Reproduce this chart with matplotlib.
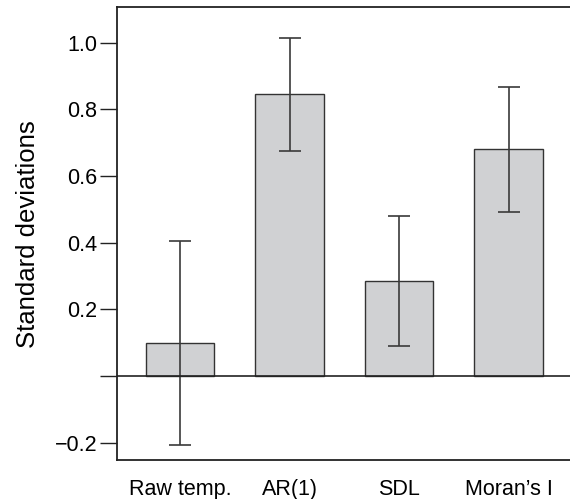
import matplotlib
matplotlib.use("Agg")
import matplotlib.pyplot as plt
import numpy as np

labels = ["Raw temp.", "AR(1)", "SDL", "Moran\u2019s I"]
means = [0.098, 0.845, 0.286, 0.680]
err_hi = [0.404, 1.015, 0.481, 0.867]
err_lo = [-0.206, 0.675, 0.091, 0.493]

plt.rcParams['font.family'] = ['Liberation Sans', 'DejaVu Sans']

fig = plt.figure(figsize=(5.70, 4.99), dpi=100)
ax = fig.add_axes([0.2058, 0.0782, 0.7942, 0.9072])

x = np.arange(len(labels))
yerr = [np.array(means) - np.array(err_lo), np.array(err_hi) - np.array(means)]
ax.bar(x, means, width=0.626, color="#d0d1d3", edgecolor="#333333",
       linewidth=1.0, zorder=2)
ax.errorbar(x, means, yerr=yerr, fmt="none", ecolor="#3a3a3a",
            elinewidth=1.2, capsize=8, capthick=1.2, zorder=3)
ax.axhline(0, color="#222222", linewidth=1.2, zorder=4)

ax.set_xlim(-0.574, 3.56)
ax.set_ylim(-0.252, 1.106)
ax.set_yticks([-0.2, 0, 0.2, 0.4, 0.6, 0.8, 1.0])
ax.set_yticklabels(["\u22120.2", "", "0.2", "0.4", "0.6", "0.8", "1.0"])
ax.set_xticks(x)
ax.set_xticklabels(labels)
ax.tick_params(axis="y", length=12, width=1.0, pad=2.5, labelsize=15.5,
               color="#222222")
ax.tick_params(axis="x", length=0, pad=14, labelsize=15.5)
ax.set_ylabel("Standard deviations", fontsize=18.5, labelpad=10.5)

ax.spines["right"].set_visible(False)
for s in ["left", "top", "bottom"]:
    ax.spines[s].set_linewidth(1.3)
    ax.spines[s].set_color("#222222")

fig.savefig("out.png", dpi=100)
